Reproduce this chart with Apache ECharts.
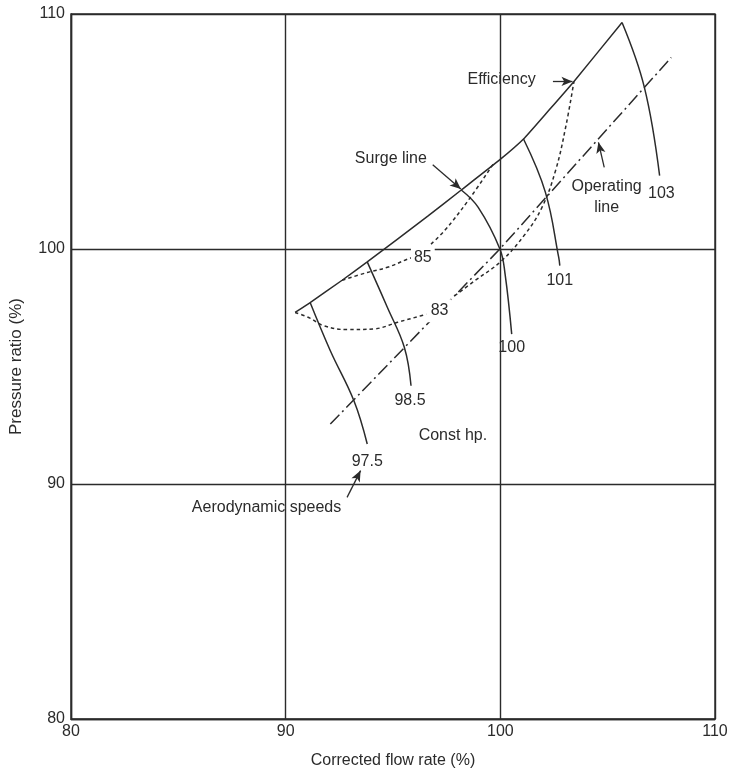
<!DOCTYPE html>
<html><head><meta charset="utf-8">
<script src="https://cdn.jsdelivr.net/npm/echarts@6/dist/echarts.min.js"></script>
<style>html,body{margin:0;padding:0;background:#fff}#c{width:731px;height:774px}</style>
</head><body><div id="c"></div>
<script>
// ---- axis ticks ----
const xTicks = [80, 90, 100, 110];
const yTicks = [80, 90, 100, 110];

// ---- curves (corrected flow %, pressure ratio %) ----
const surgeLine = [[90.44,97.30],[91.14,97.72],[92.63,98.67],[93.80,99.45],[96.62,101.40],[98.18,102.51],[99.98,103.80],[101.08,104.68],[102.25,105.89],[103.43,107.13],[105.67,109.64]];
const speed975 = [[91.14,97.72],[92.08,95.67],[93.18,93.54],[93.80,91.70]];
const speed985 = [[93.80,99.45],[94.74,97.51],[95.53,95.81],[95.84,94.18]];
const speed100 = [[98.18,102.51],[98.97,101.77],[99.98,100.00],[100.22,98.94],[100.53,96.38]];
const speed101 = [[101.08,104.68],[102.10,102.41],[102.72,99.64],[102.77,99.29]];
const speed103 = [[105.67,109.64],[106.71,106.88],[107.42,103.12]];
const operatingLine = [[92.08,92.55],[99.98,100.00],[107.96,108.15]];
const eff85a = [[92.63,98.67],[93.80,99.00],[94.74,99.22],[95.68,99.57],[95.87,99.63]];
const eff85b = [[96.77,100.21],[97.40,100.78],[98.50,102.06],[99.67,103.62]];
const eff83a = [[90.44,97.30],[91.13,97.06],[91.76,96.74],[92.86,96.57],[94.11,96.60],[95.21,96.88],[96.31,97.16],[96.55,97.22]];
const eff83b = [[97.87,98.01],[98.81,98.65],[100.06,99.50],[101.16,100.64],[101.94,101.77],[102.57,103.33],[103.04,105.17],[103.43,107.13]];

// ---- curve labels ----
const speedLabels = [['97.5',93.80,90.95],['98.5',95.79,93.54],['100',100.53,95.81],['101',102.77,98.65],['103',107.50,102.34]];
const effLabels = [['85',96.39,99.64],['83',97.17,97.37]];
const textLabels = [['Efficiency',100.06,107.20],['Surge line',94.90,103.83],['Operating\nline',104.95,102.22],['Const hp.',97.79,92.06],['Aerodynamic speeds',89.11,88.99]];
const arrows = [[[102.45,107.13],[103.36,107.13]],[[96.85,103.59],[98.16,102.55]],[[104.84,103.47],[104.57,104.54]],[[92.86,89.43],[93.49,90.57]]];

const INK = '#2b2b2b';
const FONT = '"Liberation Sans", Arial, Helvetica, sans-serif';
const chart = echarts.init(document.getElementById('c'), null, {renderer:'canvas'});

function curve(data, type, smooth){
  return {type:'line', data:data, symbol:'none', showSymbol:false, smooth:smooth, silent:true, animation:false, z:3,
    lineStyle:{color:INK, width:1.5, type:type}};
}
const DASHDOT = [13,4,2,4];
const DOT = [3.5,3];

function labelSeries(items, bg){
  return {type:'scatter', symbolSize:0, silent:true, animation:false, z:10,
    itemStyle:{opacity:1},
    data: items.map(d => ({name:d[0], value:[d[1],d[2]]})),
    label:{show:true, position:'inside', formatter:p=>p.name, color:INK, fontSize:16, fontFamily:FONT, lineHeight:21,
      backgroundColor: bg ? '#fff' : 'transparent', padding: bg ? [1,3] : 0}};
}

const series = [
  curve(surgeLine,'solid',0.15),
  curve(speed975,'solid',0.4),
  curve(speed985,'solid',0.4),
  curve(speed100,'solid',0.4),
  curve(speed101,'solid',0.4),
  curve(speed103,'solid',0.4),
  curve(operatingLine,DASHDOT,false),
  curve(eff85a,DOT,0.4),
  curve(eff85b,DOT,0.4),
  curve(eff83a,DOT,0.4),
  curve(eff83b,DOT,0.4),
  labelSeries(speedLabels,false),
  labelSeries(effLabels,true),
  labelSeries(textLabels,false),
  {type:'line', data:[], silent:true, animation:false, z:4,
    markLine:{silent:true, animation:false, symbol:['none','arrow'], symbolSize:[7,11], label:{show:false},
      lineStyle:{color:INK, width:1.3, type:'solid'},
      data: arrows.map(a => [{coord:a[0]},{coord:a[1]}])}}
];

chart.setOption({
  backgroundColor:'#fff',
  animation:false,
  grid:{left:70, right:16, top:14, bottom:54, show:true, borderColor:INK, borderWidth:1.4},
  xAxis:{type:'value', min:xTicks[0], max:xTicks[xTicks.length-1], interval:xTicks[1]-xTicks[0],
    name:'Corrected flow rate (%)', nameLocation:'middle', nameGap:34,
    nameTextStyle:{fontSize:16, color:INK, fontFamily:FONT},
    axisLine:{show:true, lineStyle:{color:INK, width:1.4}}, axisTick:{show:false},
    axisLabel:{fontSize:16, color:INK, fontFamily:FONT, margin:5},
    splitLine:{show:true, lineStyle:{color:INK, width:1.4}}},
  yAxis:{type:'value', min:yTicks[0], max:yTicks[yTicks.length-1], interval:yTicks[1]-yTicks[0],
    name:'Pressure ratio (%)', nameLocation:'middle', nameGap:46, nameRotate:90,
    nameTextStyle:{fontSize:17, color:INK, fontFamily:FONT},
    axisLine:{show:true, lineStyle:{color:INK, width:1.4}}, axisTick:{show:false},
    axisLabel:{fontSize:16, color:INK, fontFamily:FONT, margin:6},
    splitLine:{show:true, lineStyle:{color:INK, width:1.4}}},
  series:series
});
</script></body></html>
